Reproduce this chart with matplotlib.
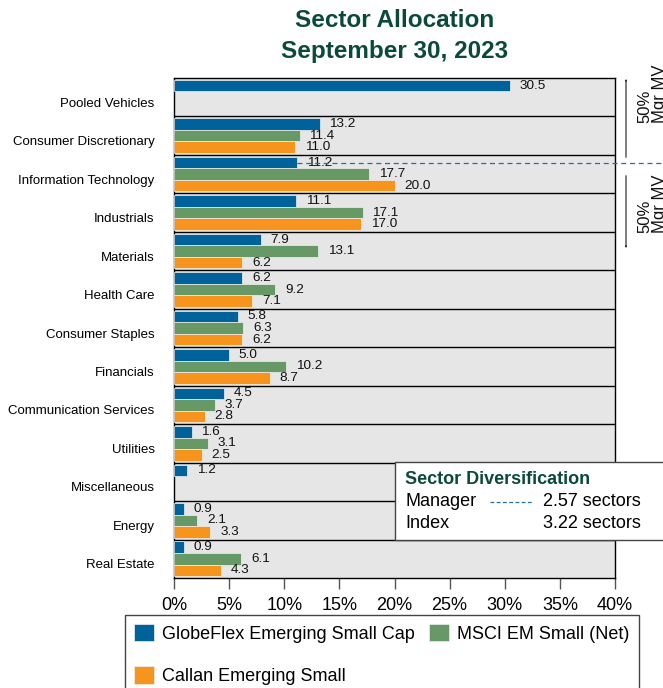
import numpy as np
import matplotlib
matplotlib.use("Agg")
import matplotlib.pyplot as plt
from matplotlib.patches import Rectangle, FancyArrowPatch
from matplotlib.lines import Line2D

plt.rcParams['font.family'] = ['Liberation Sans', 'DejaVu Sans']

# data, top to bottom
sectors = ["Pooled Vehicles", "Consumer Discretionary", "Information Technology",
           "Industrials", "Materials", "Health Care", "Consumer Staples",
           "Financials", "Communication Services", "Utilities",
           "Miscellaneous", "Energy", "Real Estate"]
globeflex = [30.5, 13.2, 11.2, 11.1, 7.9, 6.2, 5.8, 5.0, 4.5, 1.6, 1.2, 0.9, 0.9]
msci = [np.nan, 11.4, 17.7, 17.1, 13.1, 9.2, 6.3, 10.2, 3.7, 3.1, np.nan, 2.1, 6.1]
callan = [np.nan, 11.0, 20.0, 17.0, 6.2, 7.1, 6.2, 8.7, 2.8, 2.5, np.nan, 3.3, 4.3]
series_names = ["GlobeFlex Emerging Small Cap", "MSCI EM Small (Net)", "Callan Emerging Small"]
colors = ["#00629b", "#669966", "#f7941d"]
x_ticks = [0, 5, 10, 15, 20, 25, 30, 35, 40]
mgr_diversification = 2.57
index_diversification = 3.22
mid_sector = "Information Technology"  # where manager reaches 50% of MV

W, H = 663, 688
fig = plt.figure(figsize=(W / 100, H / 100), dpi=100)
ax = fig.add_axes([174 / W, 1 - 578 / H, (615 - 174) / W, (578 - 78) / H])
ax.set_facecolor("#e6e6e6")

y = np.arange(len(sectors))
offsets = [0.2, 0.5, 0.8]
for vals, off, col, name in zip([globeflex, msci, callan], offsets, colors, series_names):
    vals = np.array(vals, dtype=float)
    ax.barh(y + off, vals, height=0.3, color=col, edgecolor="#f0f0f0",
            linewidth=0.5, label=name, zorder=3)
    for yi, v in zip(y, vals):
        if np.isnan(v):
            continue
        ax.annotate(f"{v:.1f}", (v, yi + off), xytext=(7, 0), textcoords="offset points",
                    va="center", ha="left", fontsize=9.7, color="#111111", zorder=4)

ax.set_ylim(len(sectors), 0)
ax.set_xlim(0, 40)
ax.hlines(np.arange(1, len(sectors)), 0, 40, color="black", lw=1, zorder=2)

ax.set_yticks(y + 0.63)
ax.set_yticklabels(sectors, fontsize=9.5)
ax.tick_params(axis="y", length=0, pad=14)
ax.set_xticks(x_ticks)
ax.set_xticklabels([f"{t}%" for t in x_ticks], fontsize=13)
ax.tick_params(axis="x", direction="out", length=8, width=1, color="#555555", pad=6)
for s in ax.spines.values():
    s.set_color("black")
    s.set_linewidth(1)

# dashed line marking 50% of manager MV
mi = sectors.index(mid_sector)
ax.plot([globeflex[mi], 50], [mi + 0.2, mi + 0.2], ls=(0, (4, 3)), lw=0.9,
        color="#1f6fa8", clip_on=False, zorder=5)

fig.text(395 / W, 1 - 36 / H, "Sector Allocation\nSeptember 30, 2023", ha="center",
         va="center", fontsize=17.5, fontweight="bold", color="#0b4a3b", linespacing=1.4)

# 50% arrows on the right
arrow_kw = dict(arrowstyle="->,head_length=0.7,head_width=0.35", color="#333333", lw=0.9)
fig.add_artist(FancyArrowPatch((626 / W, 1 - 160 / H), (626 / W, 1 - 76 / H),
                               transform=fig.transFigure, **arrow_kw))
fig.add_artist(FancyArrowPatch((626 / W, 1 - 173 / H), (626 / W, 1 - 251 / H),
                               transform=fig.transFigure, **arrow_kw))
for yb in [123, 233]:
    fig.text(637 / W, 1 - yb / H, "50%\nMgr MV", rotation=90, rotation_mode="anchor",
             ha="left", va="top", fontsize=12, linespacing=1.0, color="#111111")

# sector diversification box
fig.add_artist(Rectangle((395 / W, 1 - 540 / H), 320 / W, 78 / H, transform=fig.transFigure,
                         facecolor="white", edgecolor="#444444", lw=1, zorder=6))
fig.text(405 / W, 1 - 479 / H, "Sector Diversification", fontsize=13, fontweight="bold",
         color="#0b4a3b", va="center", zorder=7)
fig.text(405 / W, 1 - 501 / H, "Manager", fontsize=13, va="center", zorder=7)
fig.text(405 / W, 1 - 524 / H, "Index", fontsize=13, va="center", zorder=7)
fig.text(543 / W, 1 - 501 / H, f"{mgr_diversification:.2f} sectors", fontsize=13, va="center", zorder=7)
fig.text(543 / W, 1 - 524 / H, f"{index_diversification:.2f} sectors", fontsize=13, va="center", zorder=7)
fig.add_artist(Line2D([490 / W, 533 / W], [1 - 502 / H, 1 - 502 / H], transform=fig.transFigure,
                      ls=(0, (3, 2)), lw=0.9, color="#1f6fa8", zorder=7))

handles, labels = ax.get_legend_handles_labels()
order = [0, 2, 1]
leg = fig.legend([handles[i] for i in order], [labels[i] for i in order], ncol=2,
                 loc="upper left", bbox_to_anchor=(125 / W, 1 - 615 / H), borderaxespad=0,
                 fontsize=13, handlelength=1.1, handleheight=1.1, handletextpad=0.45,
                 columnspacing=0.8, labelspacing=1.3, borderpad=0.5, fancybox=False,
                 framealpha=1, edgecolor="#444444")
leg.get_frame().set_linewidth(1)

fig.savefig("out.png", dpi=100)
